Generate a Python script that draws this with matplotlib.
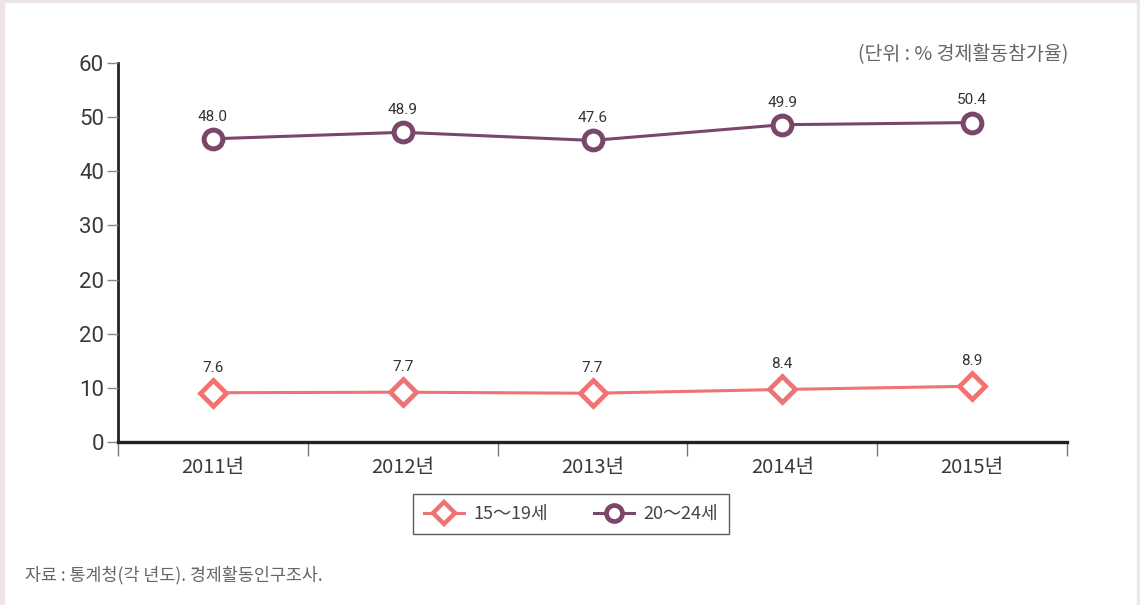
import matplotlib
matplotlib.use("Agg")
import matplotlib.pyplot as plt
from matplotlib.patches import Rectangle
from matplotlib.lines import Line2D

# ---- data ----
years = ["2011년", "2012년", "2013년", "2014년", "2015년"]
series_names = ["15～19세", "20～24세"]
# values printed above the markers
teen_labels = [7.6, 7.7, 7.7, 8.4, 8.9]
young_labels = [48.0, 48.9, 47.6, 49.9, 50.4]
# marker heights as drawn in the reference (axis units, 10 per gridstep)
teen_pos = [9.1, 9.2, 9.0, 9.7, 10.3]
young_pos = [56.0, 57.2, 55.7, 58.6, 59.0]
ytick_values = [0, 10, 20, 30, 40, 50, 60, 70]
ytick_labels = ["0", "10", "20", "20", "30", "40", "50", "60"]

PINK = "#F07373"
PURPLE = "#7A4669"
NUM = ["Roboto", "Noto Sans CJK KR", "DejaVu Sans"]
CJK = ["Noto Sans CJK KR", "DejaVu Sans"]

fig = plt.figure(figsize=(11.4, 6.05), dpi=100)
fig.patch.set_facecolor("white")

# frame strips
border = "#EDE5E7"
fig.add_artist(Rectangle((0, 0), 4 / 1140, 1, transform=fig.transFigure, color=border, zorder=0))
fig.add_artist(Rectangle((0, 1 - 2 / 605), 1, 2 / 605, transform=fig.transFigure, color=border, zorder=0))
fig.add_artist(Rectangle((1 - 3 / 1140, 0), 3 / 1140, 1, transform=fig.transFigure, color=border, zorder=0))

ax = fig.add_axes([118 / 1140, 1 - 442 / 605, (1067 - 118) / 1140, (442 - 63) / 605])
ax.set_xlim(0, 5)
ax.set_ylim(0, 70)
for s in ["top", "right"]:
    ax.spines[s].set_visible(False)
ax.spines["left"].set_color("#222222")
ax.spines["left"].set_linewidth(2.0)
ax.spines["bottom"].set_color("#222222")
ax.spines["bottom"].set_linewidth(2.4)
ax.spines["left"].set_zorder(1)

ax.set_yticks(ytick_values)
ax.set_yticklabels(ytick_labels, family=NUM, fontsize=16, color="#3a3a3a")
ax.tick_params(axis="y", direction="out", length=8, width=1.0, color="#888888", pad=2)

ax.set_xticks(range(6))
ax.set_xticklabels([])
ax.tick_params(axis="x", direction="out", length=10, width=1.0, color="#777777")
centers = [i + 0.5 for i in range(len(years))]
for c, lab in zip(centers, years):
    ax.text(c, -4.8, lab, ha="center", va="center", fontsize=14.5, color="#3a3a3a",
            family=CJK, clip_on=False)

ax.plot(centers, teen_pos, color=PINK, lw=2.2, marker="D", ms=13, mfc="white",
        mec=PINK, mew=3.4, zorder=3, clip_on=False)
ax.plot(centers, young_pos, color=PURPLE, lw=2.2, marker="o", ms=13.5, mfc="white",
        mec=PURPLE, mew=3.6, zorder=3, clip_on=False)

for c, p, v in zip(centers, teen_pos, teen_labels):
    ax.annotate(f"{v:.1f}", (c, p), xytext=(0, 18), textcoords="offset points",
                ha="center", va="center", fontsize=11, color="#333333", family=NUM)
for c, p, v in zip(centers, young_pos, young_labels):
    ax.annotate(f"{v:.1f}", (c, p), xytext=(0, 16), textcoords="offset points",
                ha="center", va="center", fontsize=11, color="#333333", family=NUM)

# legend
handles = [
    Line2D([], [], color=PINK, lw=2.2, marker="D", ms=11, mfc="white", mec=PINK, mew=3.2),
    Line2D([], [], color=PURPLE, lw=2.2, marker="o", ms=11.5, mfc="white", mec=PURPLE, mew=3.4),
]
leg = fig.legend(handles, series_names, loc="center", bbox_to_anchor=(571 / 1140, 1 - 514 / 605),
                 ncol=2, frameon=True, fancybox=False, edgecolor="#333333",
                 prop={"family": CJK, "size": 13}, handlelength=2.2, columnspacing=2.6,
                 borderpad=0.6, handletextpad=0.5)
leg.get_frame().set_linewidth(1.0)
for t in leg.get_texts():
    t.set_color("#444444")

fig.text(1068 / 1140, 1 - 55 / 605, "(단위 : % 경제활동참가율)", ha="right", va="center",
         fontsize=14, color="#666666", family=CJK)
fig.text(25 / 1140, 1 - 575 / 605, "자료 : 통계청(각 년도). 경제활동인구조사.", ha="left", va="center",
         fontsize=12.5, color="#666666", family=CJK)

fig.savefig("out.png", dpi=100)
